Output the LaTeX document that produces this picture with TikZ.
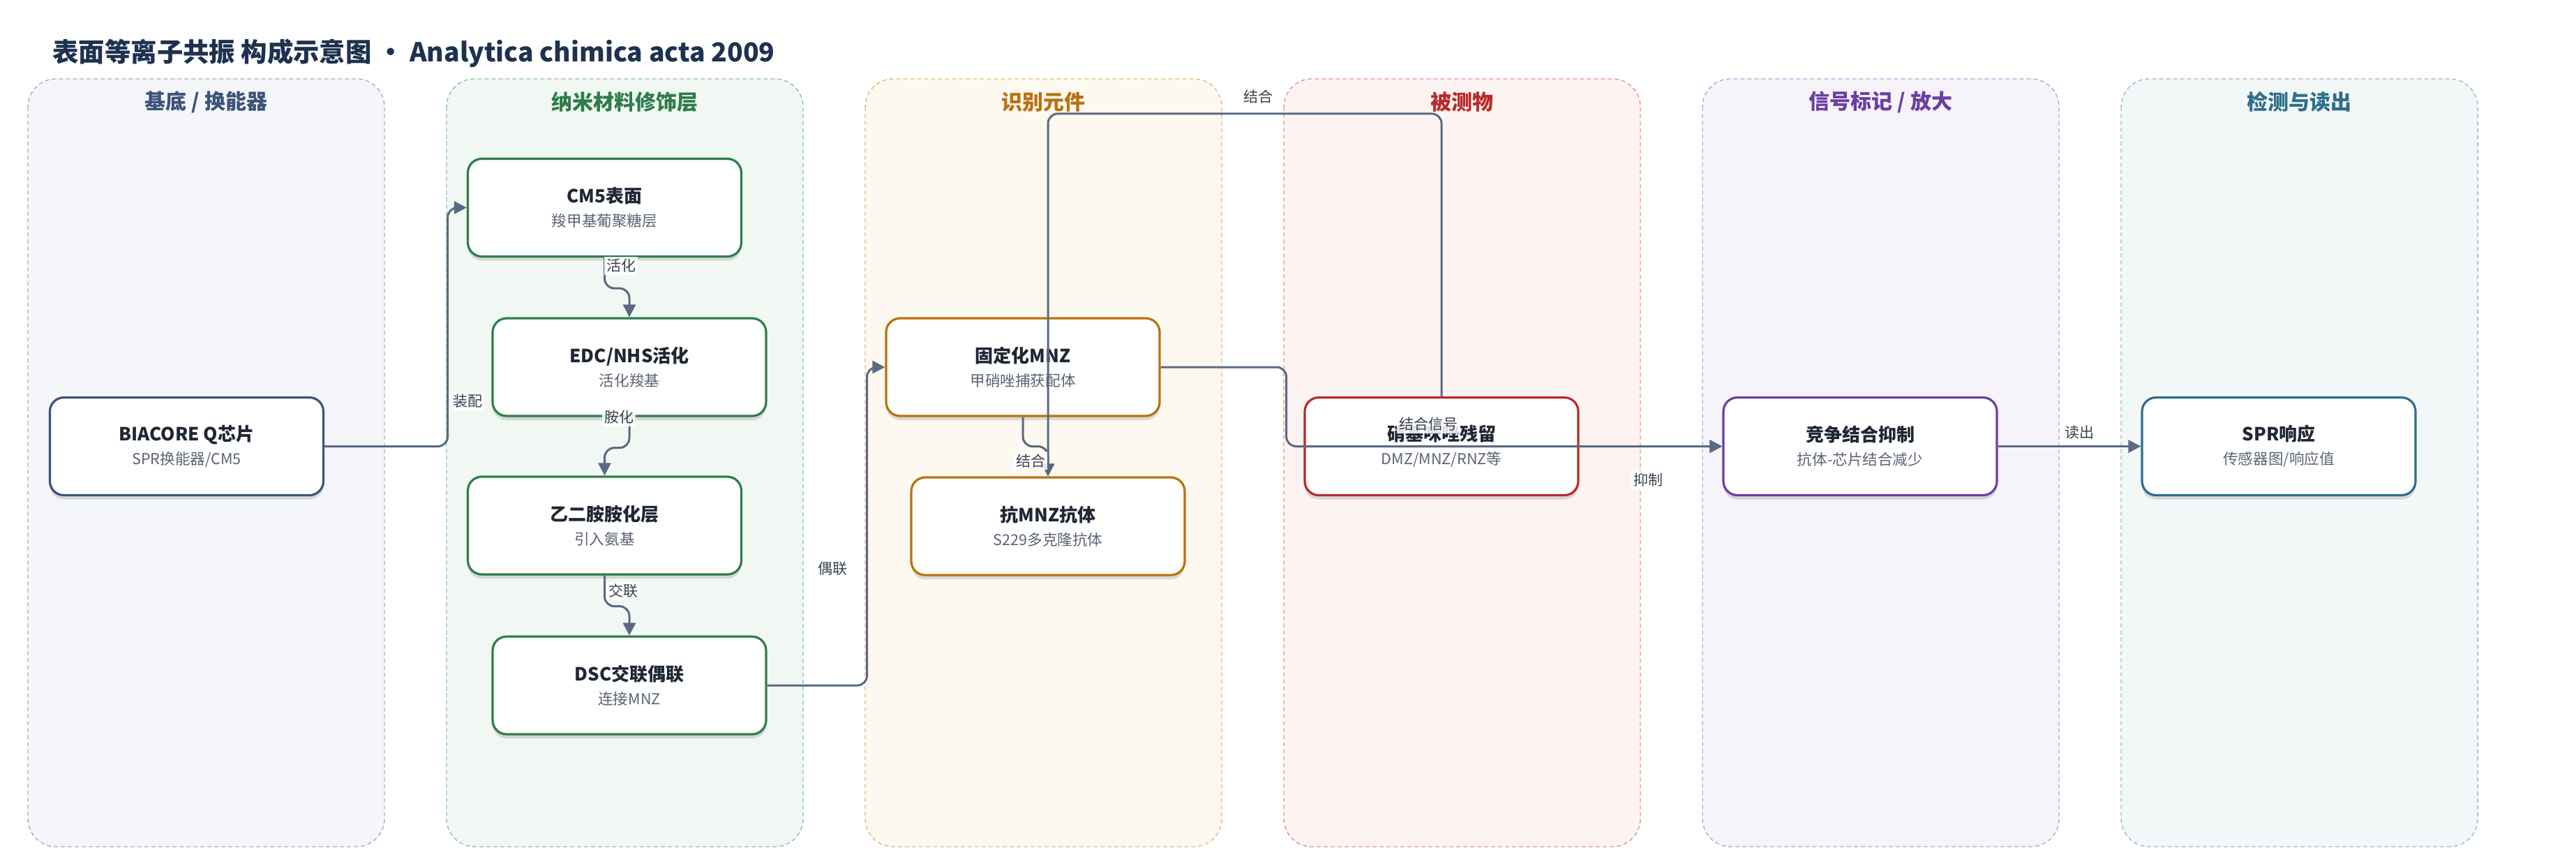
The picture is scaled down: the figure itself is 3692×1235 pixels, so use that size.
\documentclass[tikz,border=0pt]{standalone}
\usepackage{fontspec}
\setmainfont{Noto Sans CJK SC}
\usetikzlibrary{shadows,arrows.meta,calc}
\definecolor{titlec}{HTML}{1E3250}
\definecolor{nodetc}{HTML}{1F2733}
\definecolor{subc}{HTML}{5B6474}
\definecolor{edgec}{HTML}{5A6A82}
\definecolor{lblc}{HTML}{3A4150}
\definecolor{laAf}{HTML}{F4F6FA}\definecolor{laAb}{HTML}{A3B1C6}\definecolor{laAt}{HTML}{3D5479}
\definecolor{laBf}{HTML}{F1F8F3}\definecolor{laBb}{HTML}{90C3A2}\definecolor{laBt}{HTML}{2E7D4C}
\definecolor{laCf}{HTML}{FDF8F0}\definecolor{laCb}{HTML}{E2BD7F}\definecolor{laCt}{HTML}{B8730F}
\definecolor{laDf}{HTML}{FDF3F2}\definecolor{laDb}{HTML}{E39593}\definecolor{laDt}{HTML}{B72B2B}
\definecolor{laEf}{HTML}{F6F3FB}\definecolor{laEb}{HTML}{BBA5DA}\definecolor{laEt}{HTML}{6B3FA0}
\definecolor{laFf}{HTML}{F2F7F8}\definecolor{laFb}{HTML}{97BFCC}\definecolor{laFt}{HTML}{2F6E8B}
\tikzset{
  lane/.style={dash pattern=on 3pt off 2pt, line width=0.7pt, rounded corners=20pt},
  lanetitle/.style={font=\fontsize{15}{18}\bfseries\selectfont},
  box/.style={rectangle, rounded corners=10pt, fill=white, line width=1.6pt,
    minimum width=196pt, minimum height=70pt, align=center, inner sep=0pt,
    font=\fontsize{10.8}{17}\selectfont,
    drop shadow={shadow xshift=0pt, shadow yshift=-3pt, opacity=0.18, fill=black!70}},
  conn/.style={draw=edgec, line width=1.5pt, rounded corners=7pt, -{Triangle[length=9pt,width=9pt]}},
  lbl/.style={font=\fontsize{10.5}{12}\selectfont, text=lblc, fill=white, fill opacity=0.85, text opacity=1, inner sep=1.5pt},
}
\newcommand{\bx}[2]{{\fontsize{13}{17}\bfseries\selectfont\color{nodetc}#1}\\{\color{subc}#2}}
\begin{document}
\begin{tikzpicture}[x=0.5pt,y=-0.5pt]
\useasboundingbox (0,0) rectangle (3692,1235);
\fill[white] (0,0) rectangle (3692,1235);
% title
\node[anchor=west, font=\fontsize{18.7}{22}\bfseries\selectfont, text=titlec, inner sep=0pt] (title) at (75,76) {表面等离子共振 构成示意图 · Analytica chimica acta 2009};
% lanes
\draw[lane, draw=laAb, fill=laAf] (40,113) rectangle (551,1213);
\draw[lane, draw=laBb, fill=laBf] (640,113) rectangle (1151,1213);
\draw[lane, draw=laCb, fill=laCf] (1240,113) rectangle (1751,1213);
\draw[lane, draw=laDb, fill=laDf] (1840,113) rectangle (2351,1213);
\draw[lane, draw=laEb, fill=laEf] (2440,113) rectangle (2951,1213);
\draw[lane, draw=laFb, fill=laFf] (3040,113) rectangle (3551,1213);
\node[lanetitle, text=laAt] (tA) at (295.5,146) {基底 / 换能器};
\node[lanetitle, text=laBt] (tB) at (895.5,146) {纳米材料修饰层};
\node[lanetitle, text=laCt] (tC) at (1495.5,146) {识别元件};
\node[lanetitle, text=laDt] (tD) at (2095.5,146) {被测物};
\node[lanetitle, text=laEt] (tE) at (2695.5,146) {信号标记 / 放大};
\node[lanetitle, text=laFt] (tF) at (3295.5,146) {检测与读出};
% nodes
\node[box, draw=laAt] (biacore) at (267.5,639.5) {\bx{BIACORE Q芯片}{SPR换能器/CM5}};
\node[box, draw=laBt] (cm5) at (866.5,297.5) {\bx{CM5表面}{羧甲基葡聚糖层}};
\node[box, draw=laBt] (edc) at (902,526) {\bx{EDC/NHS活化}{活化羧基}};
\node[box, draw=laBt] (eda) at (866.5,753) {\bx{乙二胺胺化层}{引入氨基}};
\node[box, draw=laBt] (dsc) at (902,982) {\bx{DSC交联偶联}{连接MNZ}};
\node[box, draw=laCt] (imm) at (1466,526) {\bx{固定化MNZ}{甲硝唑捕获配体}};
\node[box, draw=laCt] (ab) at (1502,754) {\bx{抗MNZ抗体}{S229多克隆抗体}};
\node[box, draw=laDt] (nitro) at (2066,639.5) {\bx{硝基咪唑残留}{DMZ/MNZ/RNZ等}};
\node[box, draw=laEt] (comp) at (2666,639.5) {\bx{竞争结合抑制}{抗体-芯片结合减少}};
\node[box, draw=laFt] (spr) at (3266,639.5) {\bx{SPR响应}{传感器图/响应值}};
% connectors
\draw[conn] (biacore.east) -- ++(176.5,0) |- (cm5.west);
\draw[conn] (cm5.south) -- ++(0,44) -| (edc.north);
\draw[conn] (edc.south) -- ++(0,44) -| (eda.north);
\draw[conn] (eda.south) -- ++(0,44) -| (dsc.north);
\draw[conn] (dsc.east) -- ++(143,0) |- (imm.west);
\draw[conn] (imm.south) -- ++(0,42) -| (ab.north);
\draw[conn] (nitro.north) -- ++(0,-405) -| (ab.north);
\draw[conn] (imm.east) -- ++(180,0) |- (comp.west);
\draw[conn] (nitro.east) -- (comp.west);
\draw[conn] (comp.east) -- (spr.west);
% labels
\node[lbl] (l1) at (670,575) {装配};
\node[lbl] (l2) at (890,381) {活化};
\node[lbl] (l3) at (887,598) {胺化};
\node[lbl] (l4) at (893,847) {交联};
\node[lbl] (l5) at (1193,815) {偶联};
\node[lbl] (l6) at (1477,660) {结合};
\node[lbl] (l7) at (1803,138) {结合};
\node[lbl] (l8) at (2047,608) {结合信号};
\node[lbl] (l9) at (2362,688) {抑制};
\node[lbl] (l10) at (2980,620) {读出};
\end{tikzpicture}
\end{document}
